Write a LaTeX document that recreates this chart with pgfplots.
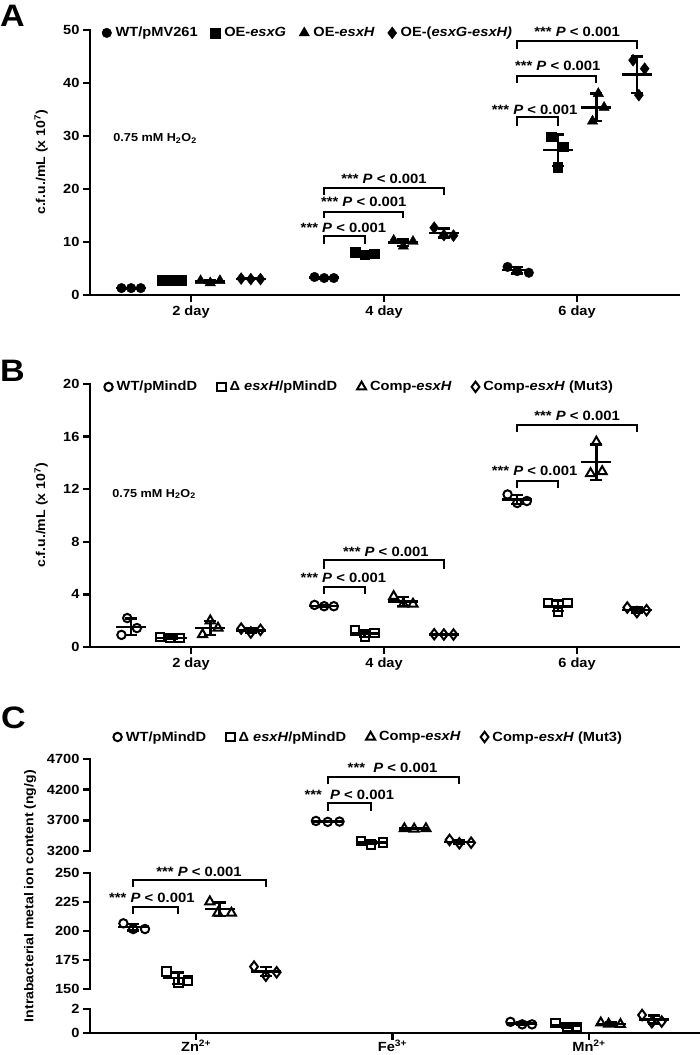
\documentclass[border=0pt]{standalone}
\usepackage{fontspec}
\setmainfont{Liberation Sans}[FakeStretch=1.1]
\usepackage{pgfplots}
\pgfplotsset{compat=1.18}
\newcommand{\fs}[1]{\fontsize{#1}{#1}\selectfont}
\newcommand{\pv}{*** \textit{P} < 0.001}
\newcommand{\pvc}{***\ \ \textit{P} < 0.001}

\tikzset{lab/.style={font=\bfseries\fs{13.5}}}
\pgfplotsset{
  base/.style={
    scale only axis, clip=false,
    axis x line*=bottom, axis y line*=left,
    axis line style={line width=2.5pt, -, line cap=rect},
    tick align=outside, major tick length=7pt,
    tick style={line width=2.5pt, black},
    ticklabel style={font=\bfseries\fs{13.3}},
    /pgf/number format/assume math mode=true,
    /pgf/number format/1000 sep={},
    scaled y ticks=false,
    legend columns=4,
    legend cell align=left,
    legend image code/.code={\draw[##1] plot coordinates {(0pt,0pt)};},
    legend style={draw=none, fill=none, inner sep=0pt, anchor=west,
      font=\bfseries\fs{13.3}, nodes={inner sep=1pt},
      /tikz/every odd column/.append style={column sep=3pt}},
  },
  err/.style={only marks, black, mark=-, mark size=15pt, mark options={line width=2.5pt, black},
    /pgfplots/error bars/y dir=both, /pgfplots/error bars/y explicit,
    /pgfplots/error bars/error mark=|,
    /pgfplots/error bars/error bar style={line width=2.5pt, black},
    /pgfplots/error bars/error mark options={line width=2.5pt, mark size=6pt, black}},
  fillpt/.style={only marks, black, mark size=4.8pt, mark options={fill=black}},
  openpt/.style={only marks, black, mark size=4.2pt, mark options={fill=white, line width=2pt}},
  brk/.style={black, line width=2pt, mark=none, sharp plot},
}

\begin{document}
\begin{tikzpicture}
\useasboundingbox (0,0) rectangle (700pt,1055pt);

\node[anchor=north west, inner sep=0pt, font=\bfseries\fs{31}] at (0pt,1050pt) {A};
\node[anchor=north west, inner sep=0pt, font=\bfseries\fs{31}] at (0pt,695pt) {B};
\node[anchor=north west, inner sep=0pt, font=\bfseries\fs{31}] at (1pt,348pt) {C};

% ---------------- Panel A ----------------
\begin{axis}[base, at={(90pt,760pt)}, anchor=south west, width=589pt, height=265pt,
  xmin=-0.523, xmax=2.528, ymin=0, ymax=50,
  xtick={0,1,2}, xticklabels={2 day,4 day,6 day},
  ytick={0,10,20,30,40,50},
  ylabel={c.f.u./mL (x 10\textsuperscript{7})},
  ylabel style={at={(axis description cs:-0.083,0.5)}, anchor=center, rotate=0, font=\bfseries\fs{12.8}},
  legend style={at={(axis description cs:0.02,0.989)},
    /tikz/every even column/.append style={column sep=12pt}},
]
\addlegendimage{fillpt, mark=*}\addlegendentry{WT/pMV261}
\addlegendimage{fillpt, mark=square*}\addlegendentry{OE-\textit{esxG}}
\addlegendimage{fillpt, mark=triangle*, mark size=6pt}\addlegendentry{OE-\textit{esxH}}
\addlegendimage{fillpt, mark=diamond*, mark size=6pt}\addlegendentry{OE-(\textit{esxG-esxH)}}

% means and SD
\addplot[err, forget plot] coordinates {(-0.31,1.3)+-(0,0.05) (0.69,3.27)+-(0,0.12) (1.69,4.67)+-(0,0.57)};
\addplot[err, forget plot] coordinates {(-0.1,2.8)+-(0,0.05) (0.9,7.83)+-(0,0.25) (1.9,27.33)+-(0,2.96)};
\addplot[err, forget plot] coordinates {(0.1,2.57)+-(0,0.23) (1.1,9.87)+-(0,0.59) (2.1,35.4)+-(0,2.6)};
\addplot[err, forget plot] coordinates {(0.31,3.03)+-(0,0.06) (1.31,11.73)+-(0,0.84) (2.31,41.57)+-(0,3.44)};
% points
\addplot[fillpt, mark=*, forget plot] coordinates {(-0.36,1.3)(-0.31,1.3)(-0.26,1.3) (0.64,3.4)(0.69,3.2)(0.74,3.2) (1.64,5.3)(1.69,4.5)(1.75,4.2)};
\addplot[fillpt, mark=square*, forget plot] coordinates {(-0.15,2.8)(-0.1,2.8)(-0.05,2.8) (0.85,8.1)(0.9,7.6)(0.95,7.8) (1.865,29.9)(1.93,28.0)(1.90,24.1)};
\addplot[fillpt, mark=triangle*, mark size=6pt, forget plot] coordinates {(0.05,2.7)(0.1,2.3)(0.15,2.7) (1.05,10.3)(1.1,9.2)(1.15,10.1) (2.11,38.0)(2.14,35.4)(2.08,32.8)};
\addplot[fillpt, mark=diamond*, mark size=6pt, forget plot] coordinates {(0.26,3.1)(0.31,3.0)(0.36,3.0) (1.26,12.7)(1.31,11.3)(1.36,11.2) (2.29,44.3)(2.35,42.7)(2.32,37.7)};
% brackets
\addplot[brk, forget plot] coordinates {(0.69,9.7)(0.69,11.1)(0.9,11.1)(0.9,9.7)};
\addplot[brk, forget plot] coordinates {(0.69,14.5)(0.69,15.7)(1.1,15.7)(1.1,14.5)};
\addplot[brk, forget plot] coordinates {(0.69,18.9)(0.69,20.1)(1.31,20.1)(1.31,18.9)};
\addplot[brk, forget plot] coordinates {(1.69,31.8)(1.69,33.6)(1.9,33.6)(1.9,31.8)};
\addplot[brk, forget plot] coordinates {(1.69,40.0)(1.69,41.4)(2.1,41.4)(2.1,40.0)};
\addplot[brk, forget plot] coordinates {(1.69,46.5)(1.69,47.9)(2.31,47.9)(2.31,46.5)};
\node[lab] at (axis cs:0.79,12.6) {\pv};
\node[lab] at (axis cs:0.895,17.5) {\pv};
\node[lab] at (axis cs:1.0,22.0) {\pv};
\node[lab] at (axis cs:1.78,35.0) {\pv};
\node[lab] at (axis cs:1.9,43.2) {\pv};
\node[lab] at (axis cs:2.0,49.7) {\pv};
\node[anchor=west, font=\bfseries\fs{11.5}] at (axis cs:-0.42,29.6) {0.75 mM H\textsubscript{2}O\textsubscript{2}};
\end{axis}

% ---------------- Panel B ----------------
\begin{axis}[base, at={(90pt,408pt)}, anchor=south west, width=589pt, height=263pt,
  xmin=-0.523, xmax=2.528, ymin=0, ymax=20,
  xtick={0,1,2}, xticklabels={2 day,4 day,6 day},
  ytick={0,4,8,12,16,20},
  ylabel={c.f.u./mL (x 10\textsuperscript{7})},
  ylabel style={at={(axis description cs:-0.083,0.5)}, anchor=center, rotate=0, font=\bfseries\fs{12.8}},
  legend style={at={(axis description cs:0.024,0.989)},
    /tikz/every even column/.append style={column sep=19pt}},
]
\addlegendimage{openpt, mark=o}\addlegendentry{WT/pMindD}
\addlegendimage{openpt, mark=square}\addlegendentry{Δ \textit{esxH}/pMindD}
\addlegendimage{openpt, mark=triangle, mark size=5.2pt}\addlegendentry{Comp-\textit{esxH}}
\addlegendimage{openpt, mark=diamond, mark size=5.2pt}\addlegendentry{Comp-\textit{esxH} (Mut3)}

\addplot[err, forget plot] coordinates {(-0.31,1.53)+-(0,0.63) (0.69,3.13)+-(0,0.06) (1.69,11.22)+-(0,0.34)};
\addplot[err, forget plot] coordinates {(-0.1,0.7)+-(0,0.09) (0.9,1.02)+-(0,0.25) (1.9,3.12)+-(0,0.40)};
\addplot[err, forget plot] coordinates {(0.1,1.46)+-(0,0.53) (1.1,3.46)+-(0,0.33) (2.1,14.05)+-(0,1.35)};
\addplot[err, forget plot] coordinates {(0.31,1.27)+-(0,0.15) (1.31,0.96)+-(0,0.01) (2.31,2.82)+-(0,0.18)};

\addplot[openpt, mark=o, forget plot] coordinates {(-0.33,2.2)(-0.36,0.92)(-0.28,1.44) (0.64,3.2)(0.69,3.1)(0.74,3.1) (1.64,11.6)(1.69,10.95)(1.74,11.1)};
\addplot[openpt, mark=square, forget plot] coordinates {(-0.16,0.75)(-0.11,0.68)(-0.06,0.68) (0.85,1.25)(0.9,0.75)(0.95,1.05) (1.85,3.35)(1.9,2.65)(1.95,3.35)};
\addplot[openpt, mark=triangle, mark size=5.2pt, forget plot] coordinates {(0.1,2.0)(0.06,0.95)(0.14,1.45) (1.05,3.85)(1.1,3.27)(1.15,3.27) (2.1,15.6)(2.07,13.2)(2.13,13.35)};
\addplot[openpt, mark=diamond, mark size=5.2pt, forget plot] coordinates {(0.26,1.4)(0.31,1.1)(0.36,1.3) (1.26,0.97)(1.31,0.95)(1.36,0.95) (2.26,3.0)(2.31,2.65)(2.36,2.8)};

\addplot[brk, forget plot] coordinates {(0.69,4.06)(0.69,4.56)(0.9,4.56)(0.9,4.06)};
\addplot[brk, forget plot] coordinates {(0.69,5.96)(0.69,6.6)(1.31,6.6)(1.31,5.96)};
\addplot[brk, forget plot] coordinates {(1.69,12.07)(1.69,12.62)(1.9,12.62)(1.9,12.07)};
\addplot[brk, forget plot] coordinates {(1.69,16.35)(1.69,16.9)(2.31,16.9)(2.31,16.35)};
\node[lab] at (axis cs:0.79,5.25) {\pv};
\node[lab] at (axis cs:1.01,7.2) {\pv};
\node[lab] at (axis cs:1.78,13.36) {\pv};
\node[lab] at (axis cs:2.0,17.6) {\pv};
\node[anchor=west, font=\bfseries\fs{11.5}] at (axis cs:-0.425,11.63) {0.75 mM H\textsubscript{2}O\textsubscript{2}};
\end{axis}

% ---------------- Panel C ----------------
% bottom segment (0-2) with x axis
\begin{axis}[base, at={(90pt,22pt)}, anchor=south west, width=610pt, height=24pt,
  xmin=-0.54, xmax=2.565, ymin=0, ymax=2,
  xtick={0,1,2}, xticklabels={Zn\textsuperscript{2+},Fe\textsuperscript{3+},Mn\textsuperscript{2+}},
  xticklabel style={yshift=3.5pt},
  ytick={0,2},
]
\addplot[err, forget plot] coordinates {(1.66,0.79)+-(0,0.12) (1.89,0.61)+-(0,0.20) (2.11,0.76)+-(0,0.15) (2.33,1.12)+-(0,0.32)};
\addplot[openpt, mark=o, forget plot] coordinates {(1.60,0.93)(1.66,0.72)(1.71,0.72)};
\addplot[openpt, mark=square, forget plot] coordinates {(1.83,0.84)(1.89,0.49)(1.94,0.49)};
\addplot[openpt, mark=triangle, mark size=5.2pt, forget plot] coordinates {(2.06,0.85)(2.10,0.75)(2.16,0.72)};
\addplot[openpt, mark=diamond, mark size=5.2pt, forget plot] coordinates {(2.27,1.50)(2.32,0.90)(2.37,0.95)};
\end{axis}

% middle segment (150-250)
\begin{axis}[base, axis x line=none, at={(90pt,66pt)}, anchor=south west, width=610pt, height=116pt,
  xmin=-0.54, xmax=2.565, ymin=150, ymax=250,
  ytick={150,175,200,225,250},
  ylabel={Intrabacterial metal ion content (ng/g)},
  ylabel style={at={(axis description cs:-0.098,0.80)}, anchor=center, rotate=0, font=\bfseries\fs{12.8}},
]
\addplot[err, forget plot] coordinates {(-0.32,203.3)+-(0,2.8) (-0.09,159.3)+-(0,5.0) (0.12,218.8)+-(0,5.66) (0.355,165.1)+-(0,3.9)};
\addplot[openpt, mark=o, forget plot] coordinates {(-0.37,206.6)(-0.32,201.7)(-0.26,201.7)};
\addplot[openpt, mark=square, forget plot] coordinates {(-0.15,165)(-0.09,155.7)(-0.04,157.2)};
\addplot[openpt, mark=triangle, mark size=5.2pt, forget plot] coordinates {(0.07,225.3)(0.11,215.5)(0.18,215.5)};
\addplot[openpt, mark=diamond, mark size=5.2pt, forget plot] coordinates {(0.295,169.3)(0.355,161.5)(0.41,164.4)};
\addplot[brk, forget plot] coordinates {(-0.32,214.7)(-0.32,220.4)(-0.09,220.4)(-0.09,214.7)};
\addplot[brk, forget plot] coordinates {(-0.32,237.6)(-0.32,244.3)(0.355,244.3)(0.355,237.6)};
\node[lab] at (axis cs:-0.225,228.4) {\pv};
\node[lab] at (axis cs:0.015,251.1) {\pv};
\end{axis}

% top segment (3200-4700)
\begin{axis}[base, axis x line=none, at={(90pt,204pt)}, anchor=south west, width=610pt, height=92pt,
  xmin=-0.54, xmax=2.565, ymin=3200, ymax=4700,
  ytick={3200,3700,4200,4700},
  legend style={at={(axis description cs:0.038,1.239)},
    /tikz/every even column/.append style={column sep=19pt}},
]
\addlegendimage{openpt, mark=o}\addlegendentry{WT/pMindD}
\addlegendimage{openpt, mark=square}\addlegendentry{Δ \textit{esxH}/pMindD}
\addlegendimage{openpt, mark=triangle, mark size=5.2pt}\addlegendentry{Comp-\textit{esxH}}
\addlegendimage{openpt, mark=diamond, mark size=5.2pt}\addlegendentry{Comp-\textit{esxH} (Mut3)}

\addplot[err, forget plot] coordinates {(0.67,3682)+-(0,8) (0.89,3338)+-(0,27) (1.11,3563)+-(0,3) (1.34,3347)+-(0,29)};
\addplot[openpt, mark=o, forget plot] coordinates {(0.61,3690)(0.67,3675)(0.73,3680)};
\addplot[openpt, mark=square, forget plot] coordinates {(0.84,3363)(0.89,3309)(0.95,3341)};
\addplot[openpt, mark=triangle, mark size=5.2pt, forget plot] coordinates {(1.06,3565)(1.11,3560)(1.17,3565)};
\addplot[openpt, mark=diamond, mark size=5.2pt, forget plot] coordinates {(1.29,3380)(1.34,3325)(1.40,3336)};
\addplot[brk, forget plot] coordinates {(0.67,3852)(0.67,3977)(0.89,3977)(0.89,3852)};
\addplot[brk, forget plot] coordinates {(0.67,4287)(0.67,4412)(1.34,4412)(1.34,4287)};
\node[lab] at (axis cs:0.78,4113) {\pvc};
\node[lab] at (axis cs:1.0,4548) {\pvc};
\end{axis}
\end{tikzpicture}
\end{document}
